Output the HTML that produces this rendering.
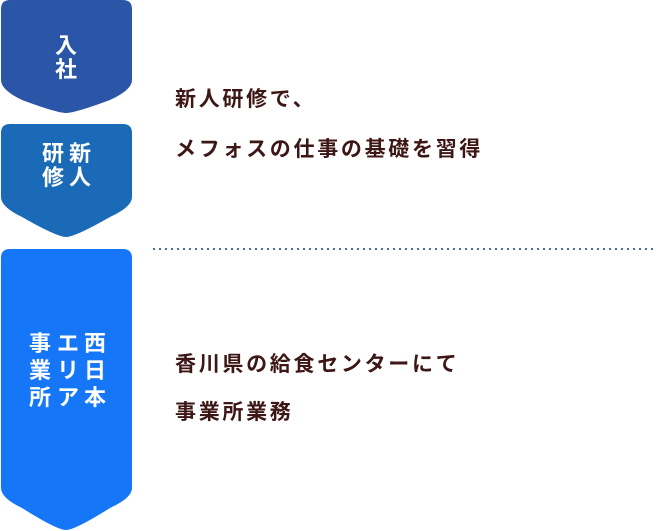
<!DOCTYPE html>
<html><head><meta charset="utf-8"><style>
body{margin:0;width:664px;height:531px;background:#fff;position:relative;overflow:hidden;font-family:"Liberation Sans","Noto Sans CJK JP",sans-serif}
.c{position:absolute;color:#fff;font-weight:bold;font-size:22px;width:26px;text-align:center;line-height:26px}
.t{position:absolute;left:175px;color:#3d1616;font-weight:bold;font-size:21px;letter-spacing:2.7px;line-height:26px;white-space:nowrap}
</style></head><body>
<svg width="664" height="531" style="position:absolute;left:0;top:0">
<path d="M1,9 Q1,0 10,0 L123,0 Q132,0 132,9 L132,80 Q132,90 110,100 Q75,113 66,113 Q57,113 22,100 Q1,90 1,80 Z" fill="#2b56a7"/>
<path d="M1,133 Q1,124 10,124 L123,124 Q132,124 132,133 L132,197 Q132,207 110,217 Q75,237 66,237 Q57,237 22,217 Q1,207 1,197 Z" fill="#1b6ab8"/>
<path d="M1,258 Q1,249 10,249 L123,249 Q132,249 132,258 L132,488 Q132,498 110,508 Q75,530 66,530 Q57,530 22,508 Q1,498 1,488 Z" fill="#1577f8"/>
<line x1="153" y1="249" x2="654" y2="249" stroke="#4a6aa8" stroke-width="2" stroke-dasharray="2 4"/>
</svg>
<div class="c" style="left:53px;top:33px">入</div>
<div class="c" style="left:53px;top:57px">社</div>
<div class="c" style="left:40px;top:141px">研</div>
<div class="c" style="left:67px;top:141px">新</div>
<div class="c" style="left:40px;top:165px">修</div>
<div class="c" style="left:67px;top:165px">人</div>
<div class="c" style="left:82px;top:331px">西</div>
<div class="c" style="left:82px;top:358px">日</div>
<div class="c" style="left:82px;top:385px">本</div>
<div class="c" style="left:55px;top:331px">エ</div>
<div class="c" style="left:55px;top:358px">リ</div>
<div class="c" style="left:55px;top:385px">ア</div>
<div class="c" style="left:27px;top:331px">事</div>
<div class="c" style="left:27px;top:358px">業</div>
<div class="c" style="left:27px;top:385px">所</div>
<div class="t" style="top:87px">新人研修で、</div>
<div class="t" style="top:137px">メフォスの仕事の基礎を習得</div>
<div class="t" style="top:352px">香川県の給食センターにて</div>
<div class="t" style="top:400px">事業所業務</div>
</body></html>
